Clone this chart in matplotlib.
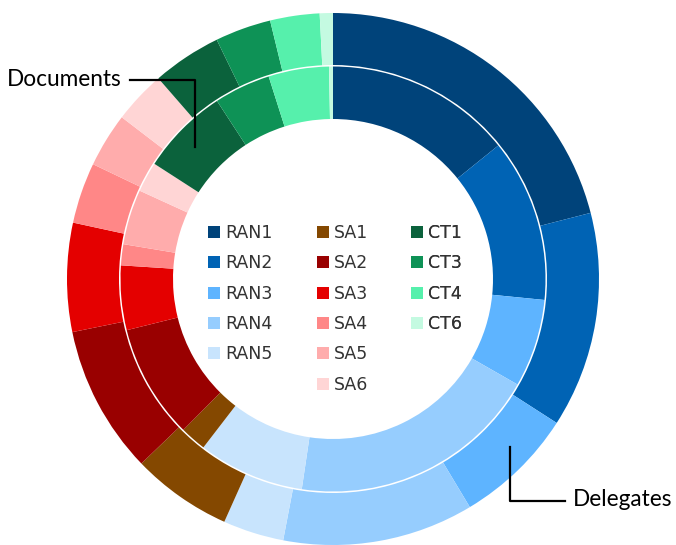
import matplotlib
matplotlib.use('Agg')
import matplotlib.pyplot as plt
from matplotlib.patches import Patch

#datos del grafico
grupos = ['RAN1', 'RAN2', 'RAN3', 'RAN4', 'RAN5',
          'SA1', 'SA2', 'SA3', 'SA4', 'SA5', 'SA6',
          'CT1', 'CT3', 'CT4', 'CT6']
delegados = [21.0, 13.1, 7.3, 11.6, 3.7,
             6.1, 9.0, 6.6, 3.7, 3.3, 3.2,
             4.2, 3.4, 3.0, 0.8]
documentos = [14.2, 12.4, 6.7, 19.1, 8.1,
              2.0, 8.7, 4.9, 1.6, 4.2, 2.3,
              6.7, 4.3, 4.6, 0.3]
colores = ['#00437a', '#0063b4', '#5eb4ff', '#96cdfe', '#c8e4fd',
           '#844800', '#990000', '#e40000', '#ff8787', '#ffacac', '#ffd5d5',
           '#0b623c', '#0e9256', '#56f0ac', '#c4fae1']

fig = plt.figure(figsize=(6.76, 5.45), dpi=100)
ax = fig.add_axes([0, 0, 1, 1])
#unidades en pixeles, centro del grafico en (0, 0)
ax.set_xlim(-333, 343)
ax.set_ylim(-266, 279)
ax.set_aspect('equal')
ax.axis('off')

#anillo exterior (delegados)
ax.pie(delegados, colors=colores, radius=266, startangle=90, counterclock=False,
       wedgeprops=dict(width=52, linewidth=0.4, edgecolor=None))
#anillo interior (documentos)
ax.pie(documentos, colors=colores, radius=212.5, startangle=90, counterclock=False,
       wedgeprops=dict(width=52.5, linewidth=0.4, edgecolor=None))
ax.set_xlim(-333, 343)
ax.set_ylim(-266, 279)

#leyenda en tres columnas
columnas = [(0, 5), (5, 11), (11, 15)]
posX = [208, 317, 411]
for (a, b), x in zip(columnas, posX):
    handles = [Patch(facecolor=colores[i], edgecolor='none', label=grupos[i]) for i in range(a, b)]
    leg = ax.legend(handles=handles, loc='upper left', bbox_to_anchor=(x - 333, 279 - 224),
                    bbox_transform=ax.transData, frameon=False, borderpad=0, borderaxespad=0,
                    handlelength=0.69, handleheight=0.69, handletextpad=0.3, labelspacing=0.71,
                    prop={'family': 'DejaVu Sans', 'size': 12.5}, labelcolor='#333333')
    ax.add_artist(leg)

#etiquetas con lineas
ax.plot([130 - 333, 195 - 333, 195 - 333], [279 - 80, 279 - 80, 279 - 147], color='black', lw=1.6)
ax.text(7 - 333, 279 - 80, 'Documents', family='Lato', fontsize=16.3, va='center', ha='left', color='black')
ax.plot([510 - 333, 510 - 333, 565 - 333], [279 - 447, 279 - 501, 279 - 501], color='black', lw=1.6)
ax.text(573 - 333, 279 - 500, 'Delegates', family='Lato', fontsize=16.3, va='center', ha='left', color='black')

plt.savefig('out.png', dpi=100)
